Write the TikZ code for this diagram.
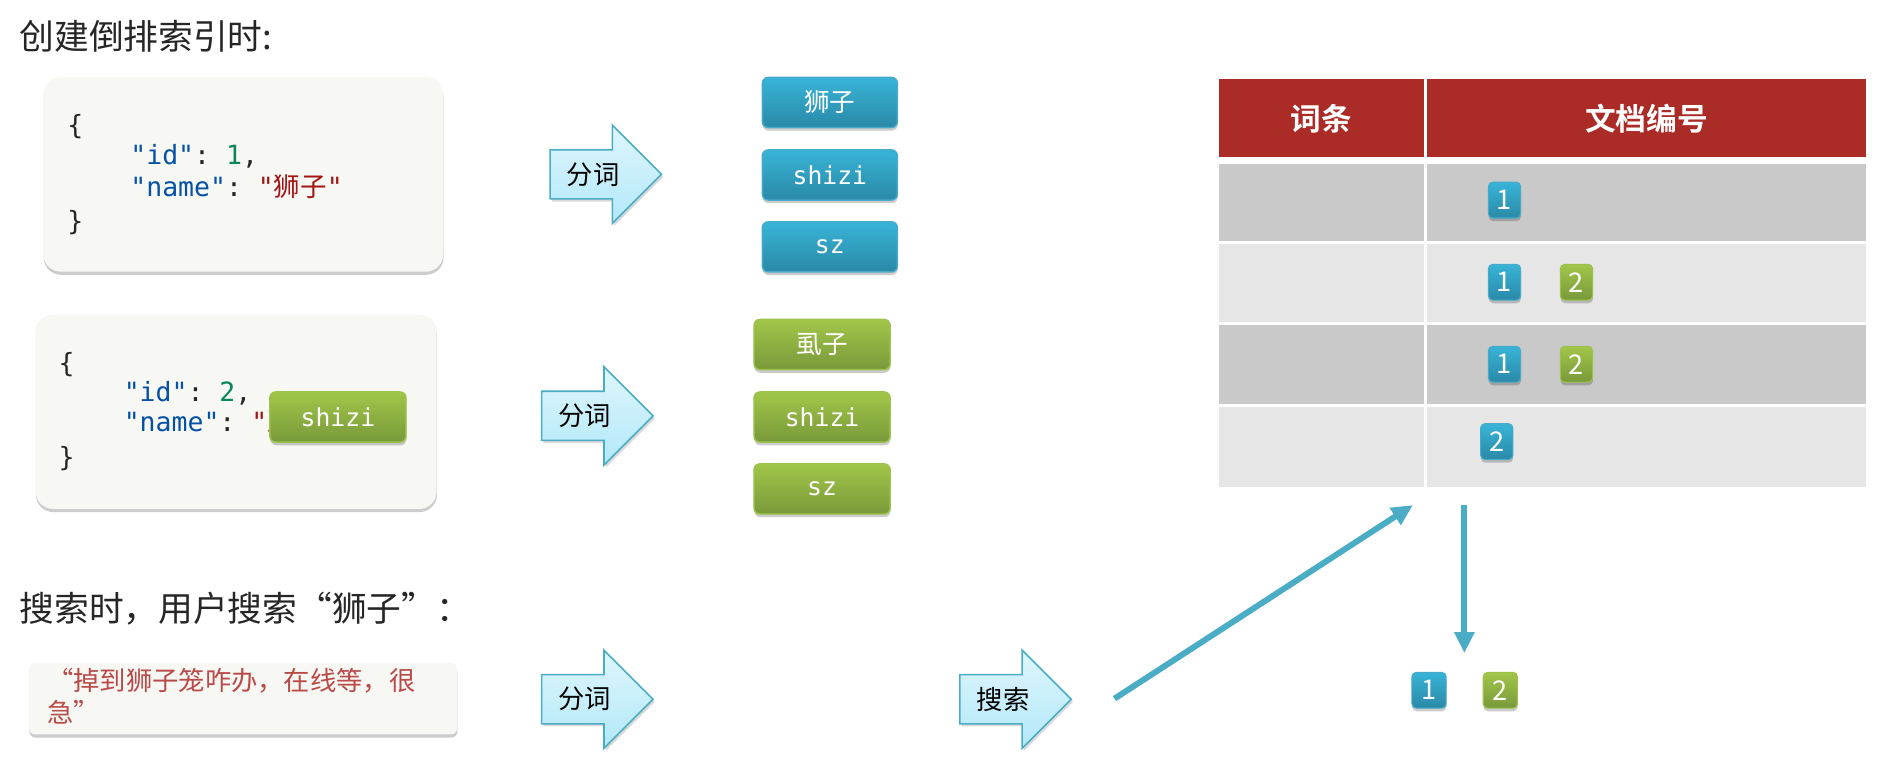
\documentclass[tikz,border=0pt]{standalone}
\usepackage{fontspec}
\setmainfont{Noto Sans CJK SC}[BoldFont={Noto Sans CJK SC Bold}]
\setmonofont{DejaVu Sans Mono}
\newfontfamily\cjk{Noto Sans CJK SC}
\usetikzlibrary{shadows,arrows.meta}
\definecolor{titlec}{RGB}{38,38,38}
\definecolor{boxbg}{RGB}{247,248,244}
\definecolor{keyc}{RGB}{4,81,165}
\definecolor{numc}{RGB}{9,134,88}
\definecolor{strc}{RGB}{163,21,21}
\definecolor{qred}{RGB}{185,74,72}
\definecolor{tokbt}{RGB}{56,180,215}
\definecolor{tokbb}{RGB}{42,137,167}
\definecolor{tokbd}{RGB}{70,170,200}
\definecolor{tokgt}{RGB}{161,198,73}
\definecolor{tokgb}{RGB}{121,153,58}
\definecolor{tokgd}{RGB}{155,195,75}
\definecolor{arrt}{RGB}{222,246,252}
\definecolor{arrb}{RGB}{178,232,249}
\definecolor{arrd}{RGB}{75,172,198}
\definecolor{conn}{RGB}{75,172,198}
\definecolor{hdr}{RGB}{171,43,39}
\definecolor{rowd}{RGB}{201,201,201}
\definecolor{rowl}{RGB}{230,230,230}
\newcommand\blockarr[4]{%
  \draw[barr] (#1,#2-20.5) -- (#1+52,#2-20.5) -- (#1+52,#2-41) -- (#1+93,#2)
    -- (#1+52,#2+41) -- (#1+52,#2+20.5) -- (#1,#2+20.5) -- cycle;
  \node[alab] (#3) at (#1+36,#2) {#4};}
\begin{document}
\begin{tikzpicture}[x=0.024cm,y=-0.024cm,
  shd/.style={drop shadow={shadow xshift=0.2pt,shadow yshift=-1.8pt,fill=black,opacity=0.2}},
  ttl/.style={anchor=mid west,inner sep=0,text=titlec,font=\fontsize{19.8}{23}\selectfont},
  jsonbox/.style={fill=boxbg,rounded corners=10pt,inner sep=0,shd},
  code/.style={anchor=mid west,inner sep=0,text=titlec,font=\ttfamily\fontsize{15.1}{18}\selectfont},
  tok/.style={rounded corners=3.4pt,minimum width=77pt,minimum height=28.6pt,inner sep=0,
     text=white,line width=0.8pt,shd},
  tokb/.style={tok,top color=tokbt,bottom color=tokbb,draw=tokbd},
  tokg/.style={tok,top color=tokgt,bottom color=tokgb,draw=tokgd},
  tokcjk/.style={font=\fontsize{14.6}{16}\selectfont},
  tokmono/.style={font=\ttfamily\fontsize{14.1}{16}\selectfont},
  barr/.style={top color=arrt,bottom color=arrb,draw=arrd,line width=0.9pt,
     drop shadow={shadow xshift=1pt,shadow yshift=-1.5pt,fill=black,opacity=0.15}},
  alab/.style={inner sep=0,text=black,font=\fontsize{15}{16}\selectfont},
  hdrtxt/.style={inner sep=0,text=white,font=\bfseries\fontsize{17.5}{19}\selectfont},
  badge/.style={minimum width=18.4pt,minimum height=20.4pt,rounded corners=2.5pt,inner sep=0,
     text=white,line width=0.6pt,font=\fontsize{15.5}{15.5}\selectfont,shd},
  badb/.style={badge,top color=tokbt,bottom color=tokbb,draw=tokbd},
  badg/.style={badge,top color=tokgt,bottom color=tokgb,draw=tokgd},
  conarrow/.style={draw=conn,line width=3.4pt,-{Triangle[length=12pt,width=11pt]}}
]
\useasboundingbox (0,0) rectangle (1568,652);

% titles
\node[ttl] (t1) at (16,37) {创建倒排索引时:};
\node[ttl] (t2) at (16,515) {搜索时，用户搜索“狮子”：};

% JSON box 1
\node[jsonbox,minimum width=228pt,minimum height=110.9pt] (box1) at (203,145.5) {};
\node[code] (b1l1) at (56,108) {\{};
\node[code] (b1l2) at (108.5,133.5) {{\color{keyc}"id"}: {\color{numc}1},};
\node[code] (b1l3) at (108.5,160) {{\color{keyc}"name"}: {\color{strc}"{\cjk 狮子}"}};
\node[code] (b1l4) at (56,188) {\}};

% JSON box 2
\node[jsonbox,minimum width=228.6pt,minimum height=110.9pt] (box2) at (197,343.5) {};
\node[code] (b2l1) at (48.6,307) {\{};
\node[code] (b2l2) at (103,331) {{\color{keyc}"id"}: {\color{numc}2},};
\node[code] (b2l3) at (103,356) {{\color{keyc}"name"}: {\color{strc}"{\cjk 虱子}"}};
\node[code] (b2l4) at (48.6,385) {\}};
\node[tokg,tokmono,minimum width=77.6pt] (over) at (282,348) {shizi};

% query box
\node[jsonbox,rounded corners=3.4pt,minimum width=243.9pt,minimum height=40.8pt] (qbox) at (202.75,583) {};
\node[anchor=mid west,inner sep=0,text=qred,font=\fontsize{15}{18}\selectfont] (q1) at (39,572) {“掉到狮子笼咋办，在线等，很};
\node[anchor=mid west,inner sep=0,text=qred,font=\fontsize{15}{18}\selectfont] (q2) at (39,599) {急”};

% block arrows
\blockarr{459}{145.5}{a1}{分词}
\blockarr{452}{347}{a2}{分词}
\blockarr{452}{583.5}{a3}{分词}
\blockarr{801}{583.5}{a4}{搜索}

% tokens
\node[tokb,tokcjk] (k1) at (692.5,85.5) {狮子};
\node[tokb,tokmono] (k2) at (692.5,146) {shizi};
\node[tokb,tokmono] (k3) at (692.5,206) {sz};
\node[tokg,tokcjk,minimum width=77.6pt] (g1) at (686,287.5) {虱子};
\node[tokg,tokmono,minimum width=77.6pt] (g2) at (686,348) {shizi};
\node[tokg,tokmono,minimum width=77.6pt] (g3) at (686,408) {sz};

% table
\fill[hdr] (1017,66) rectangle (1188,131);
\fill[hdr] (1191,66) rectangle (1557,131);
\node[hdrtxt] (h1) at (1102.5,99) {词条};
\node[hdrtxt] (h2) at (1374,99) {文档编号};
\fill[rowd] (1017,137) rectangle (1188,201);
\fill[rowd] (1191,137) rectangle (1557,201);
\fill[rowl] (1017,203.5) rectangle (1188,269);
\fill[rowl] (1191,203.5) rectangle (1557,269);
\fill[rowd] (1017,271.5) rectangle (1188,337);
\fill[rowd] (1191,271.5) rectangle (1557,337);
\fill[rowl] (1017,340) rectangle (1188,406);
\fill[rowl] (1191,340) rectangle (1557,406);

% badges in table
\node[badb] (r1a) at (1255.5,167) {1};
\node[badb] (r2a) at (1255.5,235.5) {1};
\node[badg] (r2b) at (1315.5,235.5) {2};
\node[badb] (r3a) at (1255.5,304) {1};
\node[badg] (r3b) at (1315.5,304) {2};
\node[badb] (r4a) at (1249,368.5) {2};

% result badges
\node[badb,minimum width=19.5pt] (res1) at (1192.5,576) {1};
\node[badg,minimum width=19.5pt] (res2) at (1252,576) {2};

% connectors
\coordinate (dS) at (930,583);
\coordinate (dE) at (1179,421.5);
\coordinate (vS) at (1222,421.5);
\coordinate (vE) at (1222,545);
\draw[conarrow] (dS) -- (dE);
\draw[conarrow] (vS) -- (vE);
\end{tikzpicture}
\end{document}
